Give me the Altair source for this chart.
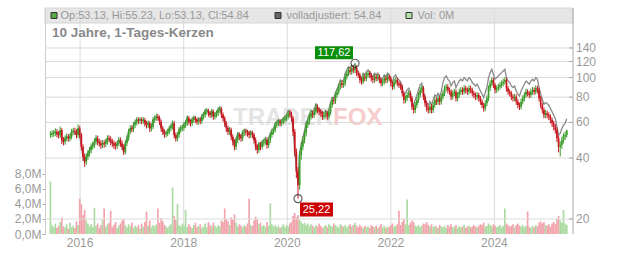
import altair as alt
import pandas as pd

# ---------------- data ----------------
first_open = 52.0
close = [
    52.4, 53.0, 53.0, 54.0, 52.6, 52.0, 55.0, 49.1, 48.2, 50.1,
    51.0, 50.1, 51.0, 54.0, 54.4, 54.0, 52.0, 56.1, 52.0, 45.5,
    40.6, 38.4, 40.6, 42.2, 43.8, 45.5, 46.4, 48.2, 50.1, 48.2,
    47.5, 46.4, 47.3, 47.0, 48.2, 50.1, 49.7, 48.2, 47.3, 46.4,
    46.0, 47.3, 49.1, 47.3, 45.5, 43.0, 47.3, 50.1, 54.0, 56.1,
    55.6, 58.3, 60.0, 61.7, 61.3, 61.7, 61.1, 61.7, 59.4, 58.3,
    59.4, 56.1, 57.2, 61.7, 62.9, 64.0, 63.3, 60.5, 56.1, 54.0,
    52.4, 53.0, 54.0, 56.1, 57.2, 59.4, 52.0, 50.1, 52.0, 55.0,
    56.1, 56.5, 58.3, 59.4, 62.9, 60.5, 59.4, 61.7, 62.9, 61.7,
    60.5, 61.7, 61.0, 64.0, 65.3, 67.8, 68.3, 66.6, 65.3, 67.8,
    64.0, 65.3, 66.6, 69.1, 69.9, 65.3, 62.9, 59.4, 56.1, 54.0,
    55.0, 51.0, 48.2, 45.5, 49.1, 52.0, 51.0, 50.1, 53.0, 54.0,
    53.6, 53.0, 52.0, 53.0, 52.0, 49.1, 45.5, 43.8, 46.4, 45.5,
    47.3, 48.2, 49.1, 46.4, 49.1, 52.0, 54.0, 55.0, 58.3, 59.4,
    60.5, 59.4, 60.5, 61.7, 62.9, 64.0, 66.6, 66.0, 62.9, 54.0,
    43.0, 34.3, 29.4, 41.4, 45.5, 49.1, 53.0, 58.3, 60.5, 64.0,
    66.6, 65.3, 67.8, 71.8, 69.1, 67.8, 66.6, 64.0, 65.3, 66.6,
    64.0, 67.8, 73.2, 77.4, 76.5, 82.0, 85.1, 90.1, 93.6, 91.9,
    93.6, 101.0, 104.9, 108.9, 106.9, 111.1, 108.9, 112.0, 104.9, 102.9,
    97.2, 95.4, 101.0, 99.1, 102.9, 104.9, 102.9, 99.1, 97.2, 101.0,
    99.1, 101.0, 97.2, 93.6, 95.4, 99.1, 97.2, 101.0, 99.1, 93.6,
    90.1, 95.4, 97.2, 93.6, 91.9, 90.1, 83.6, 77.4, 79.0, 82.0,
    83.6, 79.0, 71.8, 69.1, 73.2, 77.4, 82.0, 86.8, 88.5, 80.4,
    74.6, 70.5, 69.1, 71.8, 69.1, 73.2, 77.4, 76.0, 79.0, 76.0,
    80.4, 83.6, 88.5, 90.1, 86.8, 85.1, 80.4, 83.6, 85.1, 79.0,
    82.0, 85.1, 86.8, 85.1, 88.5, 86.8, 85.1, 88.5, 86.8, 83.6,
    82.0, 80.4, 82.0, 79.0, 76.0, 73.2, 70.5, 74.6, 79.0, 88.5,
    93.6, 97.2, 91.9, 86.8, 88.5, 90.1, 91.9, 93.6, 95.4, 97.2,
    88.5, 85.1, 83.6, 80.4, 79.0, 80.4, 76.0, 73.2, 71.8, 76.0,
    79.0, 82.0, 85.1, 83.6, 82.0, 85.1, 86.8, 85.1, 88.5, 86.8,
    79.0, 73.2, 69.1, 65.3, 66.6, 65.3, 64.0, 61.7, 59.4, 57.2,
    55.0, 50.1, 45.5, 46.4, 49.1, 51.0, 52.0, 54.84,
]
high = [
    54.3, 54.8, 55.0, 56.1, 55.6, 54.3, 57.2, 56.3, 50.8, 51.8,
    52.8, 52.6, 52.8, 55.8, 56.4, 56.5, 55.6, 58.7, 57.7, 53.3,
    46.8, 42.1, 42.2, 43.8, 45.4, 47.3, 48.3, 50.1, 52.0, 51.6,
    49.8, 49.0, 49.1, 49.0, 50.0, 51.8, 51.8, 51.2, 49.8, 48.8,
    48.0, 49.0, 50.8, 50.6, 48.8, 46.8, 49.0, 51.8, 55.8, 58.1,
    57.9, 60.3, 62.1, 63.7, 63.5, 63.7, 63.5, 63.8, 63.2, 61.1,
    61.3, 60.9, 59.2, 63.7, 64.9, 66.3, 66.1, 64.8, 61.9, 57.7,
    55.5, 54.8, 55.9, 57.9, 59.2, 61.3, 60.9, 53.5, 53.8, 56.9,
    58.1, 58.5, 60.3, 61.3, 64.9, 64.5, 62.2, 63.6, 64.9, 64.6,
    63.4, 63.6, 63.5, 66.1, 67.5, 70.1, 70.6, 70.1, 68.4, 70.0,
    69.5, 67.4, 68.8, 71.4, 72.3, 71.6, 67.1, 64.4, 60.9, 57.7,
    56.9, 56.5, 52.4, 49.6, 50.8, 53.8, 53.6, 52.6, 54.8, 55.9,
    55.9, 55.2, 54.6, 54.8, 54.6, 53.4, 50.6, 47.0, 48.1, 48.0,
    49.0, 49.9, 50.9, 50.6, 50.8, 53.8, 55.9, 56.9, 60.2, 61.3,
    62.5, 62.2, 62.4, 63.7, 64.9, 66.2, 68.9, 69.0, 67.9, 64.4,
    55.6, 44.6, 36.1, 43.1, 47.8, 51.3, 55.0, 60.5, 62.7, 66.4,
    69.0, 68.6, 70.1, 74.3, 73.7, 71.1, 69.8, 68.4, 67.6, 68.9,
    68.4, 70.1, 75.7, 80.1, 79.8, 84.8, 88.1, 93.2, 96.9, 96.5,
    96.8, 104.5, 108.6, 112.7, 112.5, 114.9, 114.5, 117.62, 114.9, 107.9,
    105.5, 99.9, 104.3, 103.8, 106.1, 108.4, 107.9, 105.5, 101.7, 104.2,
    103.7, 104.1, 103.5, 99.8, 98.5, 102.3, 101.8, 104.2, 103.8, 101.6,
    96.0, 98.5, 100.4, 99.7, 96.1, 94.4, 92.4, 85.7, 81.7, 84.7,
    86.5, 85.7, 81.1, 73.8, 75.7, 80.1, 84.7, 89.8, 91.5, 90.8,
    82.5, 76.7, 72.6, 74.2, 73.8, 75.7, 80.1, 79.7, 81.7, 81.2,
    83.1, 86.6, 91.6, 93.2, 92.6, 89.3, 87.4, 86.6, 88.1, 87.4,
    84.7, 88.1, 89.8, 89.4, 91.5, 91.0, 89.3, 91.5, 91.0, 89.1,
    85.8, 84.2, 84.7, 84.1, 81.1, 78.1, 75.1, 77.2, 81.7, 91.5,
    96.8, 100.5, 99.7, 94.2, 91.5, 93.2, 95.0, 96.8, 98.7, 100.5,
    99.7, 90.8, 87.5, 85.7, 82.6, 83.1, 82.5, 78.1, 75.2, 78.7,
    81.7, 84.7, 88.1, 87.5, 85.8, 88.1, 89.8, 89.3, 91.5, 91.0,
    89.1, 81.1, 75.1, 71.1, 69.1, 68.6, 67.3, 65.8, 63.5, 61.1,
    58.9, 56.7, 51.6, 48.4, 51.1, 53.1, 54.1, 55.23,
]
low = [
    50.3, 50.8, 51.0, 51.3, 50.6, 50.0, 50.5, 47.0, 46.2, 46.5,
    48.5, 48.2, 48.4, 49.5, 52.2, 52.0, 50.0, 50.5, 50.0, 43.7,
    38.7, 36.2, 37.0, 39.2, 40.7, 42.2, 44.0, 44.8, 46.6, 46.3,
    45.6, 44.4, 44.8, 45.0, 45.4, 46.6, 47.8, 46.3, 45.4, 44.4,
    44.0, 44.4, 45.8, 45.5, 43.8, 41.4, 41.8, 45.8, 48.6, 52.4,
    53.6, 53.8, 56.4, 58.0, 59.0, 59.1, 58.8, 59.0, 57.2, 56.0,
    56.4, 53.8, 54.2, 55.6, 59.8, 61.0, 61.2, 58.3, 53.8, 52.0,
    50.4, 50.7, 51.3, 52.4, 54.3, 55.4, 50.0, 48.2, 48.5, 50.4,
    53.3, 54.2, 54.6, 56.4, 57.6, 58.4, 57.3, 57.6, 59.8, 59.6,
    58.4, 58.6, 58.8, 59.2, 62.1, 63.4, 65.6, 64.2, 63.1, 63.4,
    61.8, 62.0, 63.4, 64.5, 66.9, 63.1, 60.6, 57.1, 53.8, 52.0,
    52.2, 49.0, 46.2, 43.7, 44.0, 47.5, 49.0, 48.2, 48.5, 51.3,
    51.7, 51.0, 50.0, 50.3, 50.1, 47.2, 43.7, 42.0, 42.4, 43.7,
    44.1, 45.6, 46.5, 44.5, 44.9, 47.5, 50.4, 52.3, 53.5, 56.4,
    57.5, 57.3, 57.5, 58.6, 59.8, 61.0, 62.1, 63.6, 60.6, 51.5,
    40.7, 31.9, 25.22, 27.9, 39.2, 43.7, 47.3, 51.2, 56.3, 58.6,
    62.0, 63.0, 63.3, 65.6, 66.6, 65.2, 64.0, 61.7, 62.0, 63.3,
    61.8, 62.1, 65.6, 70.9, 73.7, 74.0, 79.4, 82.5, 87.2, 88.8,
    89.0, 90.7, 97.8, 101.6, 103.3, 103.4, 105.2, 105.3, 101.5, 99.5,
    93.8, 92.2, 92.8, 95.8, 96.0, 99.8, 99.5, 95.8, 93.8, 94.2,
    95.8, 96.0, 93.9, 90.5, 90.7, 92.6, 93.9, 94.2, 95.8, 90.4,
    87.0, 87.4, 92.5, 90.5, 88.7, 86.9, 80.6, 74.4, 74.6, 76.4,
    79.3, 76.1, 69.1, 66.4, 66.8, 70.9, 74.9, 79.4, 83.8, 77.4,
    71.9, 67.8, 66.4, 66.8, 66.5, 66.8, 70.9, 73.2, 73.4, 73.1,
    73.5, 77.8, 81.0, 85.5, 83.6, 82.1, 77.4, 77.8, 80.9, 76.1,
    76.4, 79.4, 82.4, 82.1, 82.5, 83.6, 82.1, 82.5, 83.6, 80.6,
    79.0, 77.4, 77.7, 76.1, 73.3, 70.5, 67.8, 68.2, 72.2, 76.4,
    85.6, 90.6, 88.7, 83.6, 83.9, 85.5, 87.1, 88.9, 90.6, 92.4,
    85.2, 82.1, 80.6, 77.4, 76.1, 76.3, 73.3, 70.5, 69.1, 69.5,
    73.6, 76.4, 79.4, 80.6, 79.0, 79.4, 82.4, 82.1, 82.5, 83.6,
    76.1, 70.5, 66.4, 62.8, 63.1, 62.8, 61.6, 59.3, 57.0, 54.8,
    52.8, 48.0, 42.7, 40.7, 44.5, 47.2, 49.0, 50.5,
]
volume_m = [
    7.0, 1.2, 0.9, 1.4, 0.8, 1.1, 1.6, 2.2, 1.0, 0.9, 1.3, 0.7, 1.5, 0.9, 1.1, 0.8, 1.7, 1.2, 4.7, 4.0,
    2.5, 3.2, 1.8, 1.4, 1.0, 1.3, 0.9, 3.5, 1.1, 1.4, 0.8, 1.2, 1.9, 3.4, 1.0, 1.3, 1.5, 3.1, 0.9, 1.2,
    1.6, 0.8, 1.1, 1.4, 1.8, 2.0, 1.2, 0.9, 1.3, 1.0, 1.5, 0.8, 1.1, 0.9, 1.2, 0.7, 1.4, 1.0, 1.6, 3.0,
    1.1, 1.8, 0.9, 1.2, 1.0, 1.3, 3.4, 1.5, 2.1, 1.7, 1.2, 1.0, 0.8, 1.1, 1.3, 6.2, 2.4, 1.9, 4.0, 1.2,
    1.0, 1.4, 1.1, 3.2, 0.9, 1.3, 1.0, 0.8, 1.2, 1.5, 0.9, 1.1, 1.3, 0.8, 1.0, 1.4, 0.9, 1.6, 1.2, 1.0,
    1.5, 1.1, 0.9, 1.2, 1.0, 1.8, 1.6, 3.4, 2.0, 1.7, 1.2, 2.2, 1.9, 2.6, 1.5, 1.0, 1.3, 1.1, 0.9, 1.2,
    1.0, 1.4, 4.7, 1.2, 1.1, 1.8, 2.3, 1.9, 1.3, 1.5, 1.0, 1.2, 0.9, 1.6, 1.1, 4.1, 1.3, 1.0, 1.2, 0.9,
    1.1, 0.8, 1.0, 1.3, 0.9, 1.2, 1.0, 1.4, 1.6, 2.4, 2.8, 2.2, 2.5, 1.9, 1.6, 1.3, 1.5, 1.2, 1.4, 1.0,
    1.3, 1.1, 0.9, 1.2, 1.0, 1.4, 1.1, 0.8, 1.0, 1.2, 0.9, 1.3, 1.1, 1.0, 1.4, 1.2, 1.0, 0.9, 1.3, 1.1,
    1.0, 1.2, 0.9, 1.1, 1.3, 1.0, 1.2, 1.5, 1.1, 0.9, 1.2, 1.0, 0.8, 1.1, 0.9, 1.0, 0.8, 1.2, 1.0, 0.9,
    1.1, 0.8, 1.0, 1.3, 0.9, 1.1, 0.8, 1.0, 0.9, 1.2, 1.4, 1.0, 1.1, 1.3, 3.1, 1.2, 1.6, 2.0, 1.3, 4.6,
    1.2, 1.5, 1.8, 1.6, 1.1, 1.0, 1.2, 0.9, 1.1, 1.4, 1.3, 1.6, 1.2, 1.0, 1.3, 0.9, 1.1, 1.0, 0.8, 1.2,
    1.0, 0.9, 1.1, 0.8, 1.2, 1.0, 1.3, 0.9, 1.0, 1.2, 0.8, 1.1, 0.9, 1.0, 1.2, 0.8, 1.0, 1.1, 0.9, 1.0,
    1.2, 1.0, 0.9, 1.1, 1.3, 1.2, 1.5, 1.0, 1.1, 1.4, 1.2, 1.0, 1.3, 1.1, 0.9, 1.0, 1.2, 0.9, 1.1, 3.4,
    1.4, 1.2, 1.0, 1.1, 1.3, 0.9, 1.2, 1.4, 1.1, 1.0, 1.2, 0.9, 1.1, 3.0, 1.0, 0.8, 1.1, 0.9, 1.2, 1.0,
    1.5, 1.7, 1.4, 1.6, 1.2, 1.1, 1.3, 1.0, 1.4, 1.6, 1.3, 2.0, 2.4, 1.8, 1.5, 3.2, 1.4, 1.2,
]
# adjustment factor of the "volladjustiert" line, per calendar year
adj_years = [2015, 2016, 2017, 2018, 2019, 2020, 2021, 2022, 2023, 2024, 2025]
adj_factor = [1.0, 1.0, 1.005, 1.015, 1.02, 1.03, 1.04, 1.06, 1.13, 1.13, 1.14]

price_ticks = [20, 40, 60, 80, 100, 120, 140]
vol_ticks = [0, 2, 4, 6, 8]
year_ticks = ["2016-01-01", "2018-01-01", "2020-01-01", "2022-01-01", "2024-01-01"]

title_text = "10 Jahre, 1-Tages-Kerzen"
hdr_ohlc = "Op:53.13, Hi:55.23, Lo:53.13, Cl:54.84"
hdr_adj = "volladjustiert: 54.84"
hdr_vol = "Vol: 0M"

# ---------------- tables ----------------
dates = pd.date_range("2015-06-06", "2025-05-25", periods=len(close))
df = pd.DataFrame({
    "date": dates,
    "open": [first_open] + close[:-1],
    "high": high,
    "low": low,
    "close": close,
    "vol": volume_m,
})
fmap = dict(zip(adj_years, adj_factor))
df["adj"] = df["close"] * df["date"].dt.year.map(fmap)

imax = df["high"].idxmax()
imin = df["low"].idxmin()
mx = pd.DataFrame({"date": [df.loc[imax, "date"]], "price": [df.loc[imax, "high"]]})
mn = pd.DataFrame({"date": [df.loc[imin, "date"]], "price": [df.loc[imin, "low"]]})
mx["label"] = mx["price"].map(lambda v: f"{v:.2f}".replace(".", ","))
mn["label"] = mn["price"].map(lambda v: f"{v:.2f}".replace(".", ","))
ext = pd.concat([mx, mn])

ptick_df = pd.DataFrame({"p": price_ticks, "lab": [str(v) for v in price_ticks]})
year_df = pd.DataFrame({"d": pd.to_datetime(year_ticks)})
year_df["lab"] = year_df["d"].dt.year.astype(str)
one = pd.DataFrame({"k": [0]})

# ---------------- styling ----------------
FONT = "Liberation Sans"
W, H = 528, 226
GREEN, RED = "#3b9c2a", "#c8161d"
VGREEN, VRED = "#acdba2", "#f2a4ac"
GRID = "#dadada"
LABEL = "#999999"
up_cond = "datum.close >= datum.open"

x_scale = alt.Scale(domain=[alt.DateTime(year=2015, month=6, date=3),
                            alt.DateTime(year=2025, month=6, date=3)])
price_scale = alt.Scale(type="log", domain=[16.86, 220.6], nice=False, zero=False)
vol_scale = alt.Scale(domain=[0, 30.13], nice=False, zero=False)

vol_axis = alt.Axis(orient="left", values=vol_ticks, grid=False,
                    labelExpr="replace(format(datum.value, '.1f'), '.', ',') + 'M'",
                    domainColor="#cccccc", tickColor="#aaaaaa", tickSize=3,
                    labelColor=LABEL, labelFontSize=12, labelFont=FONT,
                    labelPadding=1, title=None)


def xd(field="date:T"):
    return alt.X(field, scale=x_scale, axis=None)


def py(field):
    return alt.Y(field, scale=price_scale, axis=None)


# ---------------- layers ----------------
year_grid = alt.Chart(year_df).mark_rule(color=GRID, strokeWidth=1).encode(x=xd("d:T"))
year_lab = alt.Chart(year_df).mark_text(color=LABEL, fontSize=12, font=FONT,
                                        baseline="top", align="center").encode(
    x=xd("d:T"), y=alt.value(H + 4), text="lab:N")

header_bg = alt.Chart(one).mark_rect(fill="#dedede", opacity=0.75, stroke="#c8c8c8",
                                     strokeWidth=1).encode(
    x=alt.value(0), x2=alt.value(W), y=alt.value(0), y2=alt.value(15))

wm1 = alt.Chart(one).mark_text(text="TRADER", align="right", baseline="middle", fontSize=24,
                               fontWeight="bold", color="#e4e4e4", font=FONT).encode(
    x=alt.value(288), y=alt.value(110))
wm2 = alt.Chart(one).mark_text(text="FOX", align="left", baseline="middle", fontSize=24,
                               fontWeight="bold", color="#f7cccc", font=FONT).encode(
    x=alt.value(288), y=alt.value(110))

vol_layer = alt.Chart(df).mark_bar(size=1.7).encode(
    x=xd(),
    y=alt.Y("vol:Q", scale=vol_scale, axis=vol_axis),
    color=alt.condition(up_cond, alt.value(VGREEN), alt.value(VRED)),
)

price_grid = alt.Chart(ptick_df).mark_rule(color=GRID, strokeWidth=1).encode(y=py("p:Q"))
price_tick = alt.Chart(ptick_df).mark_rule(color="#aaaaaa", strokeWidth=1).encode(
    x=alt.value(W - 4), x2=alt.value(W), y=py("p:Q"))
price_lab = alt.Chart(ptick_df).mark_text(color=LABEL, fontSize=12, font=FONT,
                                          align="left", baseline="middle").encode(
    x=alt.value(W + 3), y=py("p:Q"), text="lab:N")
right_line = alt.Chart(one).mark_rule(color="#aaaaaa", strokeWidth=1).encode(
    x=alt.value(W), y=alt.value(0), y2=alt.value(H))

adj_layer = alt.Chart(df).mark_line(color="#8a8a8a", strokeWidth=1.3).encode(
    x=xd(), y=py("adj:Q"))
wick_layer = alt.Chart(df).mark_rule(strokeWidth=1).encode(
    x=xd(), y=py("low:Q"), y2="high:Q",
    color=alt.condition(up_cond, alt.value(GREEN), alt.value(RED)))
body_layer = alt.Chart(df).mark_bar(size=1.7).encode(
    x=xd(), y=py("open:Q"), y2="close:Q",
    color=alt.condition(up_cond, alt.value(GREEN), alt.value(RED)))

circles = alt.Chart(ext).mark_point(shape="circle", filled=False, size=65, color="#222222",
                                    strokeWidth=1.2).encode(x=xd(), y=py("price:Q"))
mx_box = alt.Chart(mx).mark_rect(color="#0b8f0b", xOffset=-40, x2Offset=-2,
                                 yOffset=-17, y2Offset=-4).encode(
    x=xd(), x2="date:T", y=py("price:Q"), y2="price:Q")
mx_txt = alt.Chart(mx).mark_text(color="white", fontSize=11, font=FONT, dx=-21, dy=-10.5,
                                 align="center", baseline="middle").encode(
    x=xd(), y=py("price:Q"), text="label:N")
mn_box = alt.Chart(mn).mark_rect(color="#cc0000", xOffset=2, x2Offset=35,
                                 yOffset=4, y2Offset=18).encode(
    x=xd(), x2="date:T", y=py("price:Q"), y2="price:Q")
mn_txt = alt.Chart(mn).mark_text(color="white", fontSize=11, font=FONT, dx=18.5, dy=11,
                                 align="center", baseline="middle").encode(
    x=xd(), y=py("price:Q"), text="label:N")

price_group = alt.layer(price_grid, price_tick, price_lab, right_line, adj_layer,
                        wick_layer, body_layer, circles, mx_box, mx_txt, mn_box, mn_txt)


def square(x0, fill):
    return alt.Chart(one).mark_rect(fill=fill, stroke="#333333", strokeWidth=1).encode(
        x=alt.value(x0), x2=alt.value(x0 + 6), y=alt.value(4.5), y2=alt.value(10.5))


def htext(x0, txt):
    return alt.Chart(one).mark_text(text=txt, align="left", baseline="middle", fontSize=11,
                                    color=LABEL, font=FONT).encode(
        x=alt.value(x0), y=alt.value(7.5))


title = alt.Chart(one).mark_text(text=title_text, align="left", baseline="middle",
                                 fontSize=13.5, fontWeight="bold", color="#888888",
                                 font=FONT).encode(x=alt.value(7), y=alt.value(25))

chart = alt.layer(
    year_grid, header_bg, wm1, wm2, vol_layer, price_group, year_lab,
    square(6, "#55aa44"), htext(15.5, hdr_ohlc),
    square(230, "#666666"), htext(241.5, hdr_adj),
    square(361, "#b4e2aa"), htext(372.5, hdr_vol),
    title,
).resolve_scale(y="independent").properties(
    width=W, height=H,
    padding={"left": 45, "top": 8, "right": 59, "bottom": 19},
    autosize=alt.AutoSizeParams(type="none"),
    background="white",
).configure_view(stroke=None)

chart.save("out.html", embed_options={"renderer": "svg", "actions": False})
